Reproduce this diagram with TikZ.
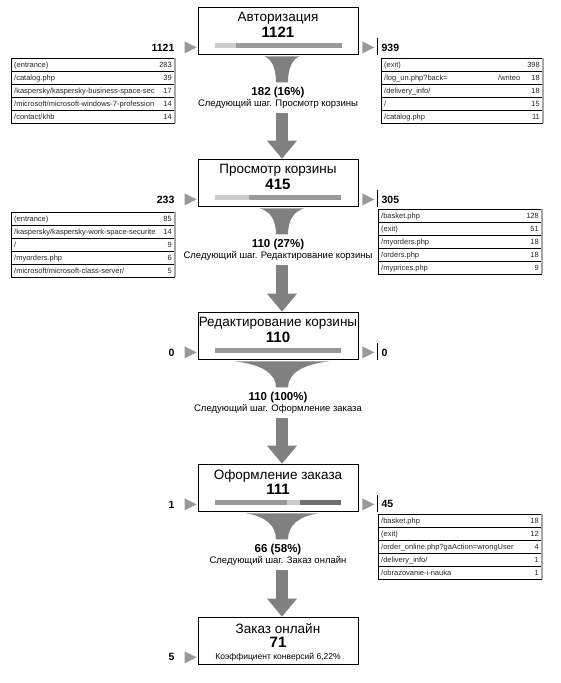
\documentclass[tikz,border=0pt]{standalone}
\usepackage{fontspec}
\setmainfont{Liberation Sans}
\usetikzlibrary{calc, positioning}
\usetikzlibrary{arrows.meta}

\begin{document}
\begin{tikzpicture}[x=1pt,y=-1pt,
  stagebox/.style={draw=black,line width=0.8pt,fill=white,minimum width=160pt,minimum height=47pt,inner sep=0pt},
  stagetitle/.style={inner sep=0pt,font=\fontsize{13.5}{15}\selectfont},
  stagenum/.style={inner sep=0pt,font=\fontsize{15}{17}\selectfont\bfseries},
  countlab/.style={inner sep=0pt,font=\fontsize{11.5}{13}\selectfont\bfseries},
  nextlab/.style={inner sep=0pt,font=\fontsize{9.5}{11}\selectfont},
  sidenum/.style={inner sep=0pt,font=\fontsize{10.5}{12}\selectfont\bfseries},
  urltext/.style={inner sep=0pt,text=black!85,font=\fontsize{7.5}{8}\selectfont},
  rowline/.style={draw=black,line width=0.6pt},
  rightedge/.style={draw=black!35,line width=1.6pt},
  stemarrow/.style={draw=funnelgray,line width=12pt,-{Triangle[width=30pt,length=18pt,line width=0pt]}},
]
\colorlet{funnelgray}{black!50}
\colorlet{barmid}{black!40}
\colorlet{barlight}{black!20}
\colorlet{bardark}{black!57}
\colorlet{sidegray}{black!40}
\def\rowh{13}

\path[use as bounding box,fill=white] (0,0) rectangle (561,683);

% stages
\foreach \i/\ytop/\stname/\num in {1/7/Авторизация/1121, 2/159/Просмотр корзины/415,
    3/312/Редактирование корзины/110, 4/464/Оформление заказа/111, 5/617/Заказ онлайн/71} {
  \node[stagebox] (s\i) at (278,\ytop+23.5) {};
  \node[stagetitle] (s\i-t) at ($(s\i.north)+(0,12)$) {\stname};
  \node[stagenum] (s\i-n) at ($(s\i.north)+(0,26)$) {\num};
}
\node[inner sep=0pt,font=\fontsize{8.5}{10}\selectfont] (conv) at ($(s5.north)+(0,41)$)
  {Коэффициент конверсий 6,22\%};

% bars inside the boxes
\foreach \i/\a/\b/\col in {1/17/38/barlight, 1/38/144/barmid, 2/17/51/barlight, 2/51/143/barmid,
    3/17/143/barmid, 4/17/89/barmid, 4/89/102/barlight, 4/102/143/bardark} {
  \fill[\col] ($(s\i.north west)+(\a,36)$) rectangle ($(s\i.north west)+(\b,41)$);
}

% funnels
\foreach \i/\w in {1/35, 2/44, 3/94, 4/72} {
  \coordinate (f\i) at ($(s\i.south)+(4,2)$);
  \fill[funnelgray] ($(f\i)+(-\w/2,0)$) -- ($(f\i)+(\w/2,0)$)
    .. controls ($(f\i)+({6+0.35*(\w/2-6)},3)$) and ($(f\i)+(6,12)$) .. ($(f\i)+(6,26)$)
    -- ($(f\i)+(-6,26)$)
    .. controls ($(f\i)+(-6,12)$) and ($(f\i)+({-6-0.35*(\w/2-6)},3)$) .. cycle;
}

% step labels and arrows
\foreach \i/\j/\cnt/\nxt in {1/2/{182 (16\%)}/{Просмотр корзины}, 2/3/{110 (27\%)}/{Редактирование корзины},
    3/4/{110 (100\%)}/{Оформление заказа}, 4/5/{66 (58\%)}/{Заказ онлайн}} {
  \node[countlab] (c\i) at ($(s\i.south)+(0,38)$) {\cnt};
  \node[nextlab] (n\i) at ($(s\i.south)+(0,50)$) {Следующий шаг. \nxt};
  \coordinate (a\i) at (n\i.south -| f\i);
  \draw[stemarrow] ([yshift=-4pt]a\i) -- (s\j.north -| f\i);
}

% entrances
\foreach \i/\v in {1/1121, 2/233, 3/0, 4/1, 5/5} {
  \fill[sidegray] ($(s\i.south west)+(-13,-13)$) -- ++(0,12) -- ++(12,-6) -- cycle;
  \node[sidenum,anchor=east] (in\i) at ($(s\i.south west)+(-23,-7)$) {\v};
}
% exits
\foreach \i/\v in {1/939, 2/305, 3/0, 4/45} {
  \fill[sidegray] ($(s\i.south east)+(4,-13)$) -- ++(0,12) -- ++(12,-6) -- cycle;
  \draw[black,line width=0.6pt] ($(s\i.south east)+(19,-16)$) -- ++(0,17);
  \node[sidenum,anchor=west] (out\i) at ($(s\i.south east)+(23,-7)$) {\v};
}

% tables
\def\tabl{11}\def\tabr{175}\def\tabtop{58}
\foreach \r/\url/\cnt in {0/(entrance)/283, 1/{/catalog.php}/39,
    2/{/kaspersky/kaspersky-business-space-sec}/17, 3/{/microsoft/microsoft-windows-7-profession}/14,
    4/{/contact/khb}/14} {
  \draw[rowline] (\tabl,\tabtop+\r*\rowh) -- (\tabr,\tabtop+\r*\rowh);
  \node[urltext,anchor=base west] (ta\r) at (\tabl+3,\tabtop+\r*\rowh+\rowh/2+2.5) {\url};
  \node[urltext,anchor=base east] (tan\r) at (\tabr-3,\tabtop+\r*\rowh+\rowh/2+2.5) {\cnt};
}
\draw[rowline] (\tabl,\tabtop+5*\rowh) -- (\tabr,\tabtop+5*\rowh);
\draw[rowline] (\tabl,\tabtop) -- (\tabl,\tabtop+5*\rowh);
\draw[rightedge] (\tabr,\tabtop) -- (\tabr,\tabtop+5*\rowh);

\def\tabl{381}\def\tabr{543}\def\tabtop{58}
\foreach \r/\url/\cnt in {0/(exit)/398, 1/{/log\_un.php?back=}/18, 2/{/delivery\_info/}/18,
    3/{/}/15, 4/{/catalog.php}/11} {
  \draw[rowline] (\tabl,\tabtop+\r*\rowh) -- (\tabr,\tabtop+\r*\rowh);
  \node[urltext,anchor=base west] (tb\r) at (\tabl+3,\tabtop+\r*\rowh+\rowh/2+2.5) {\url};
  \node[urltext,anchor=base east] (tbn\r) at (\tabr-3,\tabtop+\r*\rowh+\rowh/2+2.5) {\cnt};
}
\node[urltext,anchor=base west] (tbx) at (498,\tabtop+\rowh*1.5+2.5) {/writeo};
\draw[rowline] (\tabl,\tabtop+5*\rowh) -- (\tabr,\tabtop+5*\rowh);
\draw[rowline] (\tabl,\tabtop) -- (\tabl,\tabtop+5*\rowh);
\draw[rightedge] (\tabr,\tabtop) -- (\tabr,\tabtop+5*\rowh);

\def\tabl{11}\def\tabr{175}\def\tabtop{212}
\foreach \r/\url/\cnt in {0/(entrance)/85, 1/{/kaspersky/kaspersky-work-space-securite}/14,
    2/{/}/9, 3/{/myorders.php}/6, 4/{/microsoft/microsoft-class-server/}/5} {
  \draw[rowline] (\tabl,\tabtop+\r*\rowh) -- (\tabr,\tabtop+\r*\rowh);
  \node[urltext,anchor=base west] (tc\r) at (\tabl+3,\tabtop+\r*\rowh+\rowh/2+2.5) {\url};
  \node[urltext,anchor=base east] (tcn\r) at (\tabr-3,\tabtop+\r*\rowh+\rowh/2+2.5) {\cnt};
}
\draw[rowline] (\tabl,\tabtop+5*\rowh) -- (\tabr,\tabtop+5*\rowh);
\draw[rowline] (\tabl,\tabtop) -- (\tabl,\tabtop+5*\rowh);
\draw[rightedge] (\tabr,\tabtop) -- (\tabr,\tabtop+5*\rowh);

\def\tabl{378}\def\tabr{542}\def\tabtop{209}
\foreach \r/\url/\cnt in {0/{/basket.php}/128, 1/(exit)/51, 2/{/myorders.php}/18,
    3/{/orders.php}/18, 4/{/myprices.php}/9} {
  \draw[rowline] (\tabl,\tabtop+\r*\rowh) -- (\tabr,\tabtop+\r*\rowh);
  \node[urltext,anchor=base west] (td\r) at (\tabl+3,\tabtop+\r*\rowh+\rowh/2+2.5) {\url};
  \node[urltext,anchor=base east] (tdn\r) at (\tabr-3,\tabtop+\r*\rowh+\rowh/2+2.5) {\cnt};
}
\draw[rowline] (\tabl,\tabtop+5*\rowh) -- (\tabr,\tabtop+5*\rowh);
\draw[rowline] (\tabl,\tabtop) -- (\tabl,\tabtop+5*\rowh);
\draw[rightedge] (\tabr,\tabtop) -- (\tabr,\tabtop+5*\rowh);

\def\tabl{378}\def\tabr{542}\def\tabtop{514}
\foreach \r/\url/\cnt in {0/{/basket.php}/18, 1/(exit)/12, 2/{/order\_online.php?gaAction=wrongUser}/4,
    3/{/delivery\_info/}/1, 4/{/obrazovanie-i-nauka}/1} {
  \draw[rowline] (\tabl,\tabtop+\r*\rowh) -- (\tabr,\tabtop+\r*\rowh);
  \node[urltext,anchor=base west] (te\r) at (\tabl+3,\tabtop+\r*\rowh+\rowh/2+2.5) {\url};
  \node[urltext,anchor=base east] (ten\r) at (\tabr-3,\tabtop+\r*\rowh+\rowh/2+2.5) {\cnt};
}
\draw[rowline] (\tabl,\tabtop+5*\rowh) -- (\tabr,\tabtop+5*\rowh);
\draw[rowline] (\tabl,\tabtop) -- (\tabl,\tabtop+5*\rowh);
\draw[rightedge] (\tabr,\tabtop) -- (\tabr,\tabtop+5*\rowh);
\end{tikzpicture}
\end{document}
